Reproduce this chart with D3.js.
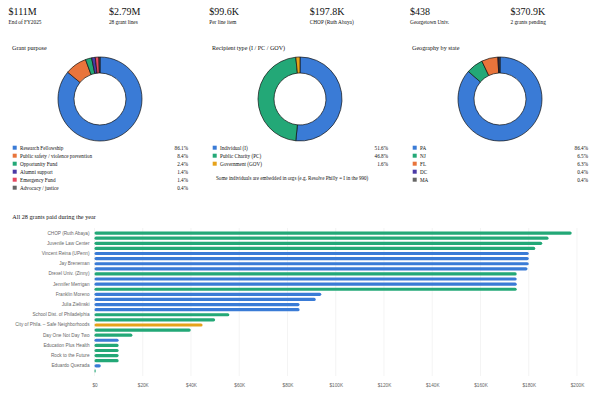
<html>
<head>
  <title>Grants FY2025</title>
  <script src='https://d3js.org/d3.v7.min.js'></script>
</head>
<style type="text/css">
body { margin: 0; background: #fff; }
.serif { font-family: 'Liberation Serif', 'Times New Roman', serif; fill: #111; }
.sans { font-family: 'Liberation Sans', Arial, sans-serif; fill: #666; }
</style>
<body>
<script>

// KPI strip
var kpiValues = ["$111M", "$2.79M", "$99.6K", "$197.8K", "$438", "$370.9K"];
var kpiNotes = ["End of FY2025", "28 grant lines", "Per line item", "CHOP (Ruth Abaya)", "Georgetown Univ.", "2 grants pending"];

// donuts (percent)
var purposeLabels = ["Research Fellowship", "Public safety / violence prevention", "Opportunity Fund", "Alumni support", "Emergency Fund", "Advocacy / justice"];
var purposeValues = [86.1, 8.4, 2.4, 1.4, 1.4, 0.4];
var typeLabels = ["Individual (I)", "Public Charity (PC)", "Government (GOV)"];
var typeValues = [51.6, 46.8, 1.6];
var stateLabels = ["PA", "NJ", "FL", "DC", "MA"];
var stateValues = [86.4, 6.5, 6.3, 0.4, 0.4];

// grants ($K), sorted largest first; only every other name is shown on the axis
var grantLabels = ["CHOP (Ruth Abaya)", "", "Juvenile Law Center", "", "Vincent Reina (UPenn)", "", "Jay Breneman", "",
                   "Drexel Univ. (Zinny)", "", "Jennifer Merrigan", "", "Franklin Moreno", "", "Julia Zielinski", "",
                   "School Dist. of Philadelphia", "", "City of Phila. \u2013 Safe Neighborhoods", "", "Day One Not Day Two", "",
                   "Education Plus Health", "", "Rock to the Future", "", "Eduardo Quezada", ""];
var grantAmounts = [197.8, 188.2, 185.6, 182.7, 180, 180, 180, 179.5, 175, 175, 175, 175, 94, 91.7, 85, 85,
                    55.9, 50, 44.8, 39.9, 15.7, 10, 10, 10, 10, 10, 2.6, 0.5];
var grantTypes = ["PC", "PC", "PC", "PC", "I", "I", "I", "I", "PC", "I", "I", "PC", "I", "I", "I", "I",
                  "PC", "PC", "GOV", "PC", "PC", "I", "PC", "PC", "PC", "PC", "I", "PC"];
var xTicks = [0, 20, 40, 60, 80, 100, 120, 140, 160, 180, 200];

var blue = "#3a7bd6", green = "#23a877", orange = "#e8743b", amber = "#e6a21a",
    purple = "#4a3aa6", red = "#e5485f", gray = "#666";

var typeColor = {I: blue, PC: green, GOV: amber};

var svg = d3.select('body')
  .append('svg')
  .attr('width', 600)
  .attr('height', 400);

// ---- KPI row
var kpi = svg.selectAll('g.kpi')
  .data(kpiValues)
  .enter().append('g')
  .attr('class', 'kpi')
  .attr('transform', function(d, i) { return 'translate(' + (8.5 + i * 100.4) + ',0)'; });

kpi.append('text')
  .attr('class', 'serif')
  .attr('y', 15)
  .style('font-size', '10px')
  .text(function(d) { return d; });

kpi.append('text')
  .attr('class', 'serif')
  .attr('y', 24)
  .style('font-size', '5.3px')
  .text(function(d, i) { return kpiNotes[i]; });

// ---- donuts
var arc = d3.arc().innerRadius(26).outerRadius(42);
var pie = d3.pie().sort(null).value(function(d) { return d; });

function drawDonut(x0, title, labels, values, colors) {
  var g = svg.append('g').attr('transform', 'translate(' + x0 + ',0)');

  g.append('text')
   .attr('class', 'serif')
   .attr('x', 12)
   .attr('y', 49.8)
   .style('font-size', '6.1px')
   .text(title);

  g.append('g')
   .attr('transform', 'translate(100,99)')
   .selectAll('path')
   .data(pie(values))
   .enter().append('path')
   .attr('d', arc)
   .attr('fill', function(d, i) { return colors[i]; })
   .attr('stroke', '#111')
   .attr('stroke-width', 0.7);

  var row = g.selectAll('g.row')
    .data(labels)
    .enter().append('g')
    .attr('class', 'row')
    .attr('transform', function(d, i) { return 'translate(0,' + (147.7 + i * 8) + ')'; });

  row.append('rect')
     .attr('x', 12.7)
     .attr('y', -2)
     .attr('width', 4)
     .attr('height', 4)
     .attr('fill', function(d, i) { return colors[i]; });

  row.append('text')
     .attr('class', 'serif')
     .attr('x', 20)
     .attr('y', 1.8)
     .style('font-size', '5.2px')
     .text(function(d) { return d; });

  row.append('text')
     .attr('class', 'serif')
     .attr('x', 188)
     .attr('y', 1.8)
     .attr('text-anchor', 'end')
     .style('font-size', '5.2px')
     .text(function(d, i) { return values[i].toFixed(1) + '%'; });

  return g;
}

drawDonut(0, 'Grant purpose', purposeLabels, purposeValues, [blue, orange, green, purple, red, gray]);
var typePanel = drawDonut(200, 'Recipient type (I / PC / GOV)', typeLabels, typeValues, [blue, green, amber]);
drawDonut(400, 'Geography by state', stateLabels, stateValues, [blue, green, orange, purple, gray]);

typePanel.append('text')
  .attr('class', 'serif')
  .attr('x', 16)
  .attr('y', 179.5)
  .style('font-size', '5.1px')
  .text('Some individuals are embedded in orgs (e.g. Resolve Philly = I in the 990)');

// ---- bar chart of all grants
svg.append('text')
   .attr('class', 'serif')
   .attr('x', 12.3)
   .attr('y', 219.4)
   .style('font-size', '6.2px')
   .text('All ' + grantAmounts.length + ' grants paid during the year');

var x = d3.scaleLinear().domain([0, 200]).range([94.5, 577]);
var y = d3.scaleBand()
  .domain(d3.range(grantAmounts.length))
  .range([230.5, 373.5])
  .paddingInner(0.38)
  .paddingOuter(0.2);

svg.append('g')
   .selectAll('line')
   .data(xTicks)
   .enter().append('line')
   .attr('x1', function(d) { return x(d); })
   .attr('x2', function(d) { return x(d); })
   .attr('y1', 228)
   .attr('y2', 376)
   .attr('stroke', '#ececec')
   .attr('stroke-width', 0.6);

var xAxis = svg.append('g')
  .attr('transform', 'translate(0,376)')
  .call(d3.axisBottom(x).tickValues(xTicks).tickSize(0).tickPadding(7.5)
          .tickFormat(function(d) { return d === 0 ? '$0' : '$' + d + 'K'; }));
xAxis.select('.domain').remove();
xAxis.selectAll('text')
  .attr('class', 'sans')
  .style('font-size', '4.7px');

var yAxis = svg.append('g')
  .attr('transform', 'translate(92,0)')
  .call(d3.axisLeft(y).tickSize(0).tickPadding(2.5)
          .tickValues(d3.range(grantAmounts.length).filter(function(i) { return grantLabels[i] !== ''; }))
          .tickFormat(function(i) { return grantLabels[i]; }));
yAxis.select('.domain').remove();
yAxis.selectAll('text')
  .attr('class', 'sans')
  .style('font-size', '4.7px');

svg.append('g')
   .selectAll('rect')
   .data(grantAmounts)
   .enter().append('rect')
   .attr('x', x(0))
   .attr('y', function(d, i) { return y(i); })
   .attr('width', function(d) { return Math.max(x(d) - x(0), 1.2); })
   .attr('height', y.bandwidth())
   .attr('rx', y.bandwidth() / 2)
   .attr('fill', function(d, i) { return typeColor[grantTypes[i]]; });

</script>
</body>
</html>
